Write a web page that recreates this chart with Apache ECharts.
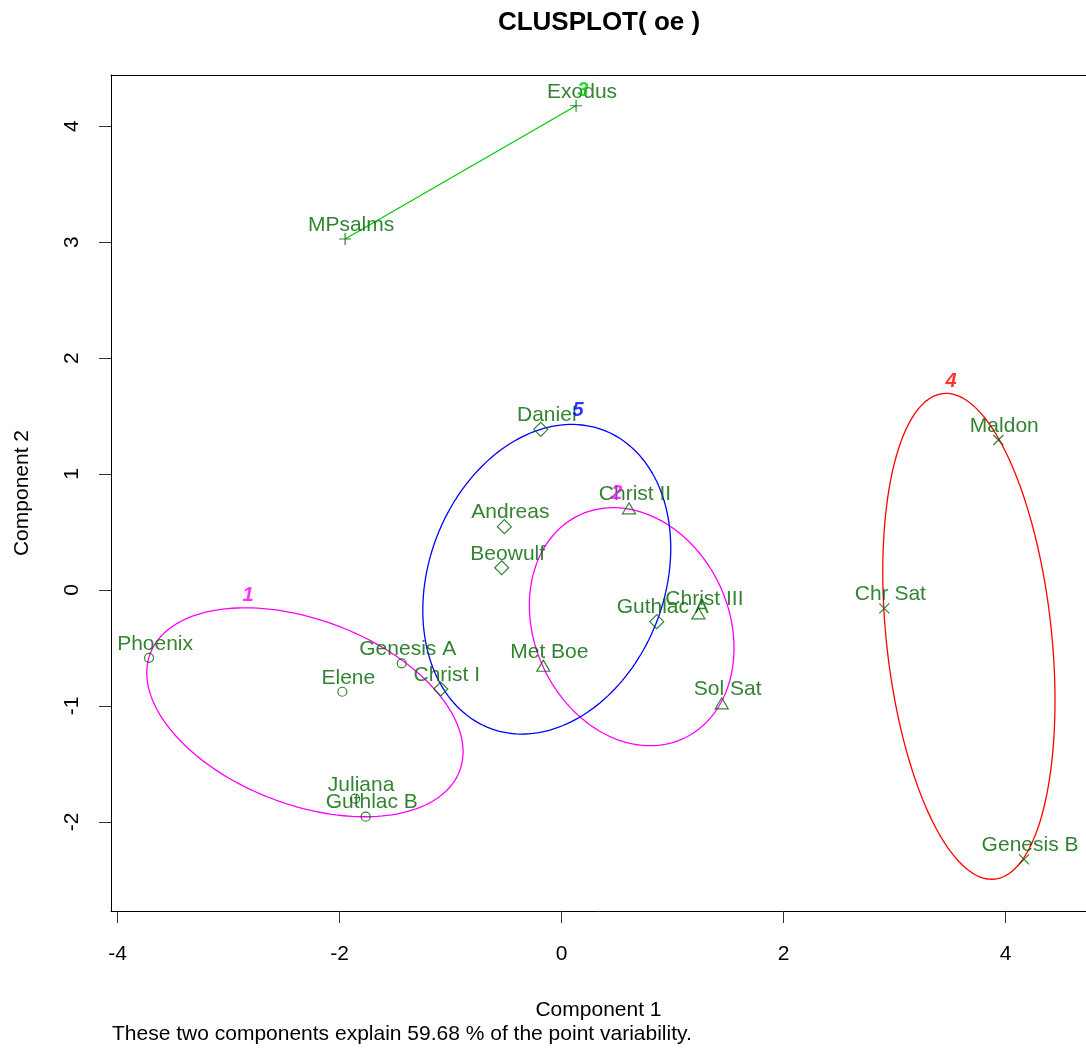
<!DOCTYPE html>
<html>
<head>
<meta charset="utf-8">
<script src="https://cdn.jsdelivr.net/npm/echarts@6/dist/echarts.min.js"></script>
<style>html,body{margin:0;padding:0;background:#fff;}#chart{width:1086px;height:1051px;}</style>
</head>
<body>
<div id="chart"></div>
<script>
// ---- tick labels ----
const xTicks = [-4, -2, 0, 2, 4];
const yTicks = [-2, -1, 0, 1, 2, 3, 4];

// ---- cluster 1 (circles) ----
const c1Names = ["Phoenix", "Genesis A", "Elene", "Juliana", "Guthlac B"];
const c1X = [-3.716, -1.440, -1.975, -1.860, -1.764];
const c1Y = [-0.584, -0.632, -0.877, -1.799, -1.954];

// ---- cluster 2 (triangles) ----
const c2Names = ["Christ II", "Christ III", "Met Boe", "Sol Sat"];
const c2X = [0.608, 1.233, -0.164, 1.443];
const c2Y = [0.704, -0.201, -0.653, -0.977];

// ---- cluster 3 (plus) ----
const c3Names = ["Exodus", "MPsalms"];
const c3X = [0.131, -1.950];
const c3Y = [4.175, 3.026];

// ---- cluster 4 (x) ----
const c4Names = ["Maldon", "Chr Sat", "Genesis B"];
const c4X = [3.935, 2.908, 4.167];
const c4Y = [1.293, -0.158, -2.322];

// ---- cluster 5 (diamonds) ----
const c5Names = ["Daniel", "Andreas", "Beowulf", "Guthlac A", "Christ I"];
const c5X = [-0.187, -0.515, -0.539, 0.858, -1.088];
const c5Y = [1.385, 0.546, 0.192, -0.273, -0.853];

// ---- cluster ellipses (center, semi-axes, angle in radians) ----
const ellCluster = ["1", "2", "4", "5"];
const ellCX = [-2.312, 0.632, 3.670, -0.133];
const ellCY = [-1.054, -0.316, -0.399, 0.093];
const ellA = [1.483, 1.072, 2.106, 1.384];
const ellB = [0.801, 0.868, 0.744, 1.055];
const ellAngle = [-0.336, -1.054, -1.459, 1.149];
const ellColor = ["#FF00FF", "#FF00FF", "#FF0000", "#0000FF"];

// ---- cluster number labels ----
const clusLabels = ["1", "2", "3", "4", "5"];
const clusLabX = [-2.824, 0.497, 0.191, 3.509, 0.149];
const clusLabY = [-0.043, 0.836, 4.310, 1.796, 1.552];
const clusLabColor = ["#FF00FF", "#FF00FF", "#00CD00", "#FF0000", "#0000FF"];

const FONT = "'Liberation Sans', Arial, sans-serif";
const PT = "#006400";

function pts(names, xs, ys) { return names.map((n, i) => [xs[i], ys[i], n]); }

function ellipse(i) {
  const out = [];
  const N = 180;
  const c = Math.cos(ellAngle[i]), s = Math.sin(ellAngle[i]);
  for (let k = 0; k <= N; k++) {
    const t = 2 * Math.PI * k / N;
    const u = ellA[i] * Math.cos(t), v = ellB[i] * Math.sin(t);
    out.push([ellCX[i] + u * c - v * s, ellCY[i] + u * s + v * c]);
  }
  return out;
}

const labelCfg = {
  show: true, position: 'inside', offset: [6, -14],
  formatter: p => p.data[2], color: PT, fontSize: 21, fontFamily: FONT
};
function scatter(name, data, symbol, size) {
  return {
    name: name, type: 'scatter', data: data, symbol: symbol, symbolSize: size,
    itemStyle: { color: 'transparent', borderColor: PT, borderWidth: 1.2 },
    label: labelCfg, z: 5, silent: true
  };
}

const series = [];
ellCluster.forEach((c, i) => {
  series.push({
    type: 'line', data: ellipse(i), showSymbol: false, symbol: 'none',
    lineStyle: { color: ellColor[i], width: 1.3 }, z: 2, silent: true
  });
});
series.push({
  type: 'line', data: [[c3X[1], c3Y[1]], [c3X[0], c3Y[0]]], showSymbol: false, symbol: 'none',
  lineStyle: { color: '#00CD00', width: 1.3 }, z: 2, silent: true
});
series.push(scatter('c1', pts(c1Names, c1X, c1Y), 'circle', 9));
series.push(scatter('c2', pts(c2Names, c2X, c2Y), 'triangle', [13, 11]));
series.push(scatter('c3', pts(c3Names, c3X, c3Y), 'path://M0,6L12,6M6,0L6,12', 12));
series.push(scatter('c4', pts(c4Names, c4X, c4Y), 'path://M0,0L10,10M0,10L10,0', 10));
series.push(scatter('c5', pts(c5Names, c5X, c5Y), 'diamond', 14));
series.push({
  type: 'scatter', symbolSize: 0, silent: true, z: 6,
  data: clusLabels.map((n, i) => ({
    value: [clusLabX[i], clusLabY[i], n],
    label: { color: clusLabColor[i] }
  })),
  label: {
    show: true, position: 'inside', formatter: p => p.data.value[2],
    fontSize: 20, fontWeight: 'bold', fontStyle: 'italic', fontFamily: FONT
  }
});

const X_MIN = -4.059, X_MAX = 4.725;
const chart = echarts.init(document.getElementById('chart'), null, { renderer: 'canvas' });
chart.setOption({
  animation: false,
  backgroundColor: '#fff',
  grid: { left: 111, top: 75, right: 0, bottom: 140, show: false, outerBoundsMode: 'none' },
  xAxis: [{
    type: 'value', min: X_MIN, max: X_MAX,
    splitLine: { show: false },
    axisLine: { show: true, onZero: false, lineStyle: { color: '#000', width: 1 } },
    axisTick: { show: true, customValues: xTicks, length: 12, lineStyle: { color: '#333' } },
    axisLabel: { customValues: xTicks, margin: 33, fontSize: 21, color: '#000', fontFamily: FONT },
    name: 'Component 1', nameLocation: 'middle', nameGap: 89,
    nameTextStyle: { fontSize: 21, color: '#000', fontFamily: FONT }
  }, {
    type: 'value', position: 'top', min: X_MIN, max: X_MAX,
    splitLine: { show: false },
    axisLine: { show: true, onZero: false, lineStyle: { color: '#000', width: 1 } },
    axisTick: { show: false }, axisLabel: { show: false }
  }],
  yAxis: {
    type: 'value', min: -2.767, max: 4.440,
    splitLine: { show: false },
    axisLine: { show: true, onZero: false, lineStyle: { color: '#000', width: 1 } },
    axisTick: { show: true, customValues: yTicks, length: 12, lineStyle: { color: '#333' } },
    axisLabel: { customValues: yTicks, margin: 28, rotate: 90, fontSize: 21, color: '#000', fontFamily: FONT },
    name: 'Component 2', nameLocation: 'middle', nameGap: 78, nameRotate: 90,
    nameTextStyle: { fontSize: 21, color: '#000', fontFamily: FONT }
  },
  graphic: [
    { type: 'text', x: 599, y: 23, style: { text: 'CLUSPLOT( oe )', align: 'center', verticalAlign: 'middle', font: "bold 26px 'Liberation Sans', Arial, sans-serif", fill: '#000' } },
    { type: 'text', x: 112, y: 1034, style: { text: 'These two components explain 59.68 % of the point variability.', align: 'left', verticalAlign: 'middle', font: "21px 'Liberation Sans', Arial, sans-serif", fill: '#000' } }
  ],
  series: series
});
</script>
</body>
</html>
